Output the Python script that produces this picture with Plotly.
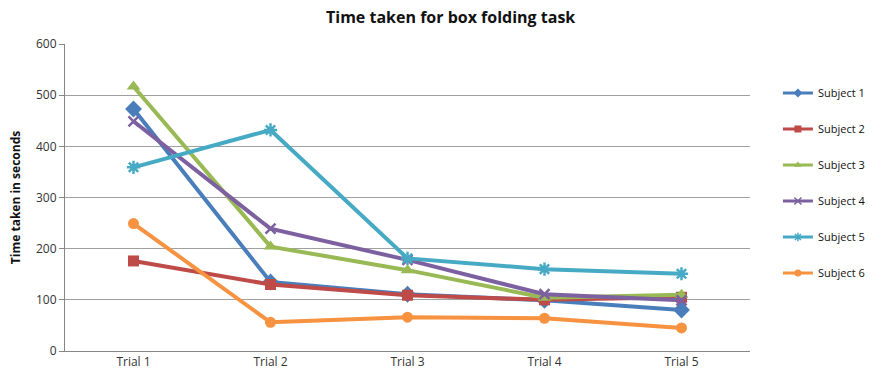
import plotly.graph_objects as go

trials = ["Trial 1", "Trial 2", "Trial 3", "Trial 4", "Trial 5"]

subject_names = ["Subject 1", "Subject 2", "Subject 3", "Subject 4", "Subject 5", "Subject 6"]

subject_1 = [473, 135, 111, 99, 80]
subject_2 = [176, 130, 109, 100, 105]
subject_3 = [517, 204, 158, 104, 110]
subject_4 = [449, 239, 178, 111, 99]
subject_5 = [359, 432, 181, 160, 151]
subject_6 = [249, 56, 66, 64, 45]

series = [subject_1, subject_2, subject_3, subject_4, subject_5, subject_6]

colors = ["#4A7EBB", "#BE4B48", "#98B954", "#7D60A0", "#46AAC5", "#F69240"]
symbols = ["diamond", "square", "triangle-up", "x-thin-open", "asterisk-open", "circle"]
sizes = [13, 11, 12, 10, 11, 11]
legend_sizes = [7, 7, 7, 7, 7, 7]

fig = go.Figure()
for name, vals, col, sym, sz, lsz in zip(subject_names, series, colors, symbols,
                                         sizes, legend_sizes):
    open_marker = sym.endswith("open")
    # data trace (legend entry is drawn by a separate key trace with smaller markers)
    fig.add_trace(go.Scatter(
        x=trials, y=vals, name=name, mode="lines+markers",
        legendgroup=name, showlegend=False,
        line=dict(color=col, width=4),
        marker=dict(symbol=sym, size=sz, color=col,
                    line=dict(color=col, width=2.5 if open_marker else 0)),
    ))
    # legend key
    fig.add_trace(go.Scatter(
        x=[None], y=[None], name=name, mode="lines+markers",
        legendgroup=name, showlegend=True, hoverinfo="skip",
        line=dict(color=col, width=3),
        marker=dict(symbol=sym, size=lsz, color=col,
                    line=dict(color=col, width=1.5 if open_marker else 0)),
    ))

font_family = "Open Sans"

fig.update_layout(
    width=883, height=382,
    margin=dict(l=65, r=131, t=44, b=26),
    paper_bgcolor="white", plot_bgcolor="white",
    font=dict(family=font_family, size=12, color="#333333"),
    title=dict(text="<b>Time taken for box folding task</b>",
               x=0.563, xref="paper", xanchor="center",
               y=1 - 17 / 382, yref="container", yanchor="middle",
               font=dict(family=font_family, size=16, color="#111111")),
    showlegend=True,
    legend=dict(
        x=(780 - 65) / 687, xanchor="left",
        y=(356 - 79) / 312, yanchor="top",
        font=dict(family=font_family, size=11, color="#111111"),
        tracegroupgap=17, bgcolor="rgba(0,0,0,0)",
    ),
    xaxis=dict(
        showgrid=False, showline=True, linecolor="#868686", linewidth=1,
        ticks="", tickfont=dict(size=12, color="#333333"),
        range=[-0.5, 4.5], fixedrange=True,
    ),
    yaxis=dict(
        range=[0, 600], dtick=100, showgrid=True, gridcolor="#A0A0A0", gridwidth=1,
        showline=True, linecolor="#868686", linewidth=1,
        ticks="outside", ticklen=5, tickcolor="#868686",
        tickfont=dict(size=12, color="#333333"),
        title=dict(text="<b>Time taken in seconds</b>", standoff=12,
                   font=dict(size=12, color="#111111")),
        zeroline=False,
    ),
)

fig.write_html("out.html")
